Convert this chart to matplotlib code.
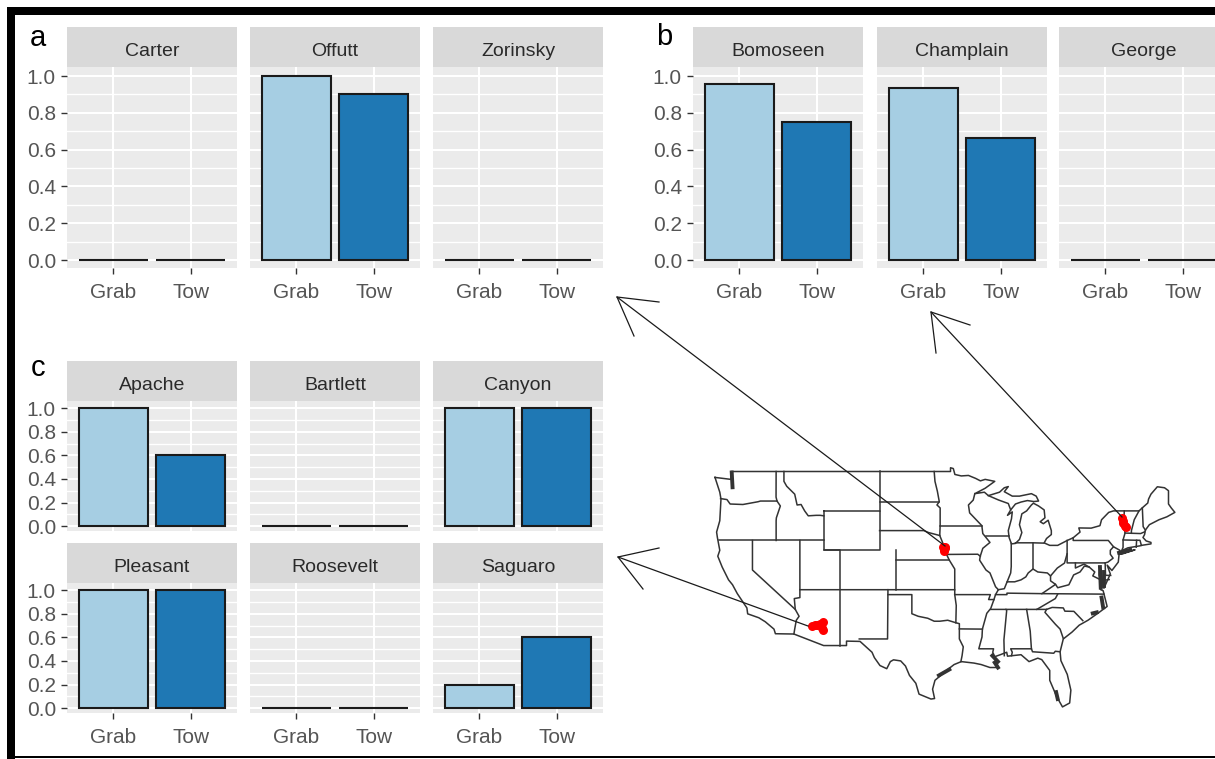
import matplotlib
matplotlib.use('Agg')
import matplotlib.pyplot as plt
from matplotlib.patches import Rectangle

plt.rcParams['font.family'] = ['Liberation Sans', 'DejaVu Sans']

W, H = 1215, 759

# bar heights (Grab, Tow)
methods = ['Grab', 'Tow']
lakes_a = ['Carter', 'Offutt', 'Zorinsky']
values_a = [[0, 0], [1.0, 0.9], [0, 0]]
lakes_b = ['Bomoseen', 'Champlain', 'George']
values_b = [[0.955, 0.75], [0.935, 0.665], [0, 0]]
lakes_c1 = ['Apache', 'Bartlett', 'Canyon']
values_c1 = [[1.0, 0.6], [0, 0], [1.0, 1.0]]
lakes_c2 = ['Pleasant', 'Roosevelt', 'Saguaro']
values_c2 = [[1.0, 1.0], [0, 0], [0.2, 0.6]]
y_ticks = [0.0, 0.2, 0.4, 0.6, 0.8, 1.0]
bar_colors = ['#A6CEE3', '#1F78B4']

# map outlines, lon/lat
us_outline = [(-124.7, 48.4), (-122.7, 48.2), (-122.7, 49), (-95.15, 49), (-95.15, 49.38), (-94.8, 49.3),
              (-94.6, 48.7), (-93.8, 48.55), (-92.9, 48.6), (-92, 48.3), (-91.4, 48.05), (-90.8, 48.2),
              (-89.6, 48.0), (-90.8, 47.3), (-92.1, 46.75), (-90.9, 46.9), (-90.4, 46.55), (-89, 46.9),
              (-88.4, 47.35), (-87.9, 47.47), (-88.4, 46.95), (-87.4, 46.5), (-86.5, 46.5), (-85, 46.75),
              (-84.4, 46.5), (-84.1, 46.0), (-84.7, 45.95), (-85.5, 46.05), (-86.3, 45.9), (-87, 45.7),
              (-87.6, 45.1), (-88, 44.55), (-87.4, 44.9), (-87.5, 44.2), (-87.9, 43.0), (-87.8, 42.3),
              (-87.5, 41.65), (-87.0, 41.7), (-86.5, 42.1), (-86.2, 42.8), (-86.5, 43.6), (-86.2, 44.7),
              (-85.6, 45.0), (-85, 45.6), (-84.75, 45.78), (-84.1, 45.5), (-83.4, 45.1), (-83.3, 44.3),
              (-83.9, 43.9), (-83.5, 43.7), (-82.9, 44.05), (-82.5, 43.0), (-82.5, 42.6), (-83.1, 42.2),
              (-83.4, 41.75), (-82.7, 41.5), (-81.7, 41.5), (-80.5, 42.0), (-79.76, 42.27), (-78.9, 42.85),
              (-79.05, 43.27), (-77.5, 43.25), (-76.4, 43.5), (-76.2, 44.1), (-75.3, 44.85), (-74.7, 45.0),
              (-71.5, 45.0), (-71.1, 45.3), (-70.4, 45.8), (-70.3, 46.2), (-70, 46.7), (-69.2, 47.45),
              (-68.3, 47.35), (-67.8, 47.05), (-67.8, 45.7), (-67.45, 45.3), (-67, 44.85), (-68, 44.4),
              (-69, 44.1), (-70.2, 43.6), (-70.7, 43.05), (-70.8, 42.6), (-71, 42.3), (-70.6, 41.95),
              (-70, 41.8), (-70, 41.65), (-71.2, 41.5), (-71.4, 41.45), (-72.9, 41.25), (-73.7, 40.95),
              (-74, 40.6), (-74.1, 39.8), (-74.9, 38.95), (-75.5, 39.5), (-75.1, 38.6), (-75.9, 37.15),
              (-76.4, 39.2), (-76.5, 38.5), (-76.3, 38), (-76.3, 37), (-76, 36.9), (-75.5, 35.3),
              (-76.5, 34.7), (-77.9, 33.9), (-79, 33.4), (-79.9, 32.7), (-81, 32.0), (-81.4, 30.7),
              (-81.3, 29.8), (-80.5, 28.4), (-80.05, 26.8), (-80.2, 25.5), (-81.1, 25.1), (-81.8, 26.1),
              (-82.7, 27.8), (-82.7, 28.8), (-83.7, 29.9), (-84.2, 30.05), (-85.3, 29.7), (-86.3, 30.4),
              (-87.5, 30.3), (-88, 30.25), (-88.1, 30.65), (-88.9, 30.4), (-89.6, 30.2), (-89.4, 29.8),
              (-89.2, 29.1), (-90.2, 29.1), (-91.3, 29.4), (-92.2, 29.55), (-93.8, 29.7), (-94.7, 29.4),
              (-95.5, 28.9), (-97.1, 27.8), (-97.4, 26.9), (-97.15, 25.95), (-97.6, 25.9), (-99.1, 26.4),
              (-99.5, 27.5), (-100.3, 28.3), (-100.8, 29.25), (-101.4, 29.77), (-102.3, 29.88), (-102.7, 29.7),
              (-103.15, 28.98), (-104, 29.3), (-104.7, 30.1), (-105, 30.65), (-106.5, 31.75), (-108.2, 31.78),
              (-108.2, 31.33), (-111.07, 31.33), (-114.8, 32.5), (-117.12, 32.53), (-117.3, 33), (-118.4, 33.75),
              (-119.2, 34.15), (-120.6, 34.55), (-120.7, 35.15), (-121.9, 36.6), (-122.5, 37.5), (-123, 38),
              (-123.8, 39.3), (-124.35, 40.4), (-124.1, 41), (-124.4, 42.3), (-124.5, 42.85), (-124.1, 44),
              (-123.95, 46.2), (-124.1, 46.9), (-124.7, 48.4)]
state_lines = [
    [(-124, 46.25), (-123.2, 46.15), (-122.8, 45.7), (-121.2, 45.65), (-119.3, 45.93), (-119, 46), (-116.92, 46)],
    [(-117.03, 49), (-117.04, 46.4), (-116.92, 46), (-116.5, 45.5), (-117, 44.3), (-117.03, 44), (-117.03, 42)],
    [(-124.2, 42), (-111.05, 42)],
    [(-111.05, 45), (-111.05, 41), (-104.05, 41), (-104.05, 45), (-111.05, 45)],
    [(-116.05, 49), (-116.05, 48), (-115.7, 47.5), (-114.7, 46.7), (-114.4, 45.6), (-113.9, 45.65),
     (-113.45, 45), (-113, 44.5), (-112, 44.55), (-111.5, 44.55), (-111.05, 44.5)],
    [(-114.05, 42), (-114.05, 36.2), (-114.75, 36.1), (-114.63, 35), (-114.15, 34.3), (-114.5, 33.9),
     (-114.7, 33), (-114.8, 32.5)],
    [(-111.05, 41), (-109.05, 41), (-109.05, 31.33)],
    [(-114.05, 37), (-94.62, 37), (-94.62, 36.5), (-90.15, 36.5), (-90.37, 36), (-89.7, 36)],
    [(-103, 37), (-103.05, 32), (-106.6, 32)],
    [(-103, 36.5), (-100, 36.5), (-100, 34.56), (-99.2, 34.3), (-98, 34.1), (-97.2, 33.8), (-96.5, 33.8),
     (-95.5, 33.9), (-94.5, 33.65), (-94.04, 33.55), (-94.04, 32), (-93.55, 31.2), (-93.7, 30.3), (-93.85, 29.7)],
    [(-94.04, 33.02), (-91.15, 33)],
    [(-120, 42), (-120, 39), (-114.63, 35)],
    [(-104.05, 49), (-104.05, 45)],
    [(-104.05, 45.94), (-96.56, 45.94)],
    [(-104.05, 43), (-98.5, 43), (-97.9, 42.8), (-96.5, 42.5)],
    [(-102.05, 41), (-102.05, 37)],
    [(-102.05, 40), (-95.3, 40)],
    [(-97.2, 49), (-97.1, 48), (-96.8, 47), (-96.56, 45.94), (-96.85, 45.6), (-96.45, 45.3), (-96.45, 43.5),
     (-96.5, 42.5), (-96.1, 41.7), (-95.9, 41), (-95.3, 40), (-94.62, 39.1), (-94.62, 37)],
    [(-96.45, 43.5), (-91.22, 43.5)],
    [(-94.62, 36.5), (-94.43, 35.4), (-94.48, 33.64)],
    [(-95.77, 40.58), (-91.73, 40.6), (-91.42, 40.4)],
    [(-92.1, 46.75), (-92.3, 46.1), (-92.9, 45.6), (-92.75, 44.8), (-91.22, 43.5), (-91.1, 42.7), (-90.2, 41.8),
     (-91.1, 41.2), (-91.42, 40.4), (-91.5, 40), (-90.7, 39), (-90.2, 38.7), (-89.5, 37.3), (-89.15, 37),
     (-89.5, 36.5), (-89.7, 36), (-90.1, 35.1), (-90.6, 34.6), (-91.15, 33), (-91.2, 32.2), (-91.6, 31),
     (-89.75, 31), (-89.85, 30.65), (-89.6, 30.2)],
    [(-90.65, 42.5), (-87.8, 42.5)],
    [(-90.4, 46.55), (-89.1, 46.1), (-87.9, 45.75), (-87.6, 45.1)],
    [(-87.53, 41.7), (-87.53, 39.35), (-87.6, 38.7), (-88.05, 37.8)],
    [(-89.15, 37), (-88.4, 37.1), (-88.05, 37.8), (-87.1, 37.8), (-86.3, 38), (-85.7, 38.3), (-85.4, 38.7),
     (-84.8, 39.1), (-84.2, 38.8), (-83, 38.7), (-82.6, 38.4), (-81.75, 39.2), (-80.85, 39.7), (-80.52, 40.64)],
    [(-84.8, 39.1), (-84.8, 41.7)],
    [(-87, 41.76), (-84.8, 41.76), (-83.45, 41.73)],
    [(-80.52, 42), (-80.52, 39.72), (-75.75, 39.72), (-75.7, 38.46), (-75.05, 38.45)],
    [(-79.76, 42.27), (-79.76, 42), (-75.35, 42), (-74.7, 41.36), (-75.1, 41), (-75.1, 40.6), (-74.75, 40.2), (-75.4, 39.8), (-75.75, 39.72)],
    [(-79.48, 39.72), (-79.48, 39.2), (-78.4, 39.6), (-77.75, 39.3), (-77.05, 38.8), (-77.3, 38.4), (-76.3, 38)],
    [(-77.75, 39.3), (-78.35, 39.4), (-78.9, 38.8), (-79.7, 38.5), (-80.3, 37.5), (-81.7, 37.2), (-81.97, 37.54)],
    [(-82.6, 38.4), (-82.6, 37.9), (-81.97, 37.54), (-83.68, 36.6)],
    [(-75.9, 36.55), (-83.68, 36.6), (-88.07, 36.65), (-88.07, 36.5), (-89.5, 36.5)],
    [(-90.1, 35), (-84.32, 35), (-82, 36.1), (-81.7, 36.55)],
    [(-84.32, 35), (-83.1, 35), (-82.4, 35.2), (-81, 35.15), (-80.8, 34.82), (-79.67, 34.8), (-78.55, 33.86)],
    [(-83.1, 35), (-83.3, 34.7), (-82, 33.5), (-81.4, 33), (-81, 32.05)],
    [(-88.2, 35), (-88.1, 34.9), (-88.45, 31.9), (-88.4, 30.3)],
    [(-85.6, 35), (-85.15, 32.8), (-85, 31.0), (-84.86, 30.7), (-82.2, 30.55), (-82, 30.75), (-81.45, 30.7)],
    [(-87.5, 30.3), (-87.4, 30.65), (-87.6, 31), (-85, 31)],
    [(-73.35, 45), (-73.4, 43.6), (-73.25, 42.75), (-73.5, 42.05), (-73.5, 41.3), (-73.65, 41)],
    [(-71.5, 45), (-72.1, 44.1), (-72.45, 43), (-72.46, 42.73)],
    [(-73.25, 42.75), (-71.3, 42.7), (-70.8, 42.87)],
    [(-73.5, 42.05), (-71.8, 42.02), (-71.38, 42.02), (-71.2, 41.5)],
    [(-71.8, 42.02), (-71.85, 41.32)],
    [(-71.08, 45.3), (-70.98, 43.4), (-70.7, 43.05)],
    [(-74.7, 41.36), (-73.9, 41), (-74, 40.6)],
    [(-75.9, 37.95), (-75.25, 38.03)],
    [(-74, 40.6), (-72, 41.05), (-73.7, 40.6), (-74, 40.6)],
]
# sounds and inlets that fill in as dark blobs on the map
heavy_lines = [
    [(-122.6, 48.9), (-122.5, 47.4)],
    [(-76.4, 39.3), (-76.3, 37.2)],
    [(-75.95, 38.8), (-75.95, 37.4)],
    [(-76.2, 36.2), (-76.0, 35.2)],
    [(-77.3, 34.6), (-76.8, 34.7)],
    [(-89.9, 30.3), (-89.2, 29.7)],
    [(-89.6, 29.6), (-89.2, 29.1)],
    [(-96.6, 28.3), (-95.3, 28.9)],
    [(-81.9, 26.6), (-81.7, 25.9)],
    [(-74, 40.75), (-72.6, 41.05)],
]

# sampled lakes
lake_lon = [-112.57, -112.2, -111.95, -111.5, -111.2, -111.3, -111.2,
            -96.1, -95.85, -96.0, -95.9, -96.0,
            -73.67, -73.55, -73.47, -73.3, -73.17]
lake_lat = [33.3, 33.4, 33.46, 33.55, 33.72, 33.1, 32.87,
            41.35, 41.35, 41.1, 41.2, 40.95,
            44.25, 44.0, 43.74, 43.5, 43.33]

# annotation arrows as image pixels: shaft start, tip, two barbs
arrows = [[(945, 546), (617, 297), (659, 302), (634, 336)],
          [(1122, 517), (931, 312), (970, 325), (936, 353)],
          [(808, 626), (618, 557), (659, 548), (643, 589)]]


def px_axes(x0, y0, x1, y1):
    return fig.add_axes([x0 / W, 1 - y1 / H, (x1 - x0) / W, (y1 - y0) / H])


def facet(name, vals, x0, strip_top, strip_bot, panel_bot, ylim, show_x, show_y, label_y):
    s = px_axes(x0, strip_top, x0 + 170, strip_bot)
    s.set_facecolor('#D9D9D9')
    s.set_xticks([])
    s.set_yticks([])
    for sp in s.spines.values():
        sp.set_visible(False)
    s.text(0.5, label_y, name, transform=s.transAxes, ha='center', va='center', fontsize=14, color='#2A2A2A')

    ax = px_axes(x0, strip_bot, x0 + 170, panel_bot)
    ax.set_facecolor('#EBEBEB')
    for sp in ax.spines.values():
        sp.set_visible(False)
    ax.bar(methods, vals, width=0.9, color=bar_colors, edgecolor='#1A1A1A', linewidth=1.5, zorder=3)
    ax.set_xlim(-0.6, 1.6)
    ax.set_ylim(*ylim)
    ax.set_yticks(y_ticks)
    ax.set_yticks([0.1, 0.3, 0.5, 0.7, 0.9], minor=True)
    ax.grid(which='major', color='white', linewidth=1.5, zorder=1)
    ax.grid(which='minor', axis='y', color='white', linewidth=1.0, zorder=1)
    ax.set_axisbelow(True)
    ax.tick_params(which='minor', length=0)
    ax.tick_params(axis='both', which='major', length=4, width=1, color='#333333',
                   labelcolor='#555555', labelsize=15)
    ax.tick_params(axis='y', pad=4)
    ax.tick_params(axis='x', pad=7)
    ax.tick_params(axis='x', bottom=show_x, labelbottom=show_x)
    ax.tick_params(axis='y', left=show_y, labelleft=show_y)
    if show_y:
        ax.set_yticklabels(['%.1f' % t for t in y_ticks])


fig = plt.figure(figsize=(W / 100, H / 100), dpi=100, facecolor='white')

row_a = (-0.043, 1.049)
row_c = (-0.04, 1.06)
for i, (name, vals) in enumerate(zip(lakes_a, values_a)):
    facet(name, vals, [67, 250, 433][i], 27, 67, 268, row_a, True, i == 0, 0.40)
for i, (name, vals) in enumerate(zip(lakes_b, values_b)):
    facet(name, vals, [693, 877, 1059][i], 27, 67, 268, row_a, True, i == 0, 0.40)
for i, (name, vals) in enumerate(zip(lakes_c1, values_c1)):
    facet(name, vals, [67, 250, 433][i], 361, 401, 531, row_c, False, i == 0, 0.38)
for i, (name, vals) in enumerate(zip(lakes_c2, values_c2)):
    facet(name, vals, [67, 250, 433][i], 543, 583, 713, row_c, True, i == 0, 0.39)

# map
m = px_axes(700, 460, 1190, 720)
m.patch.set_alpha(0)
m.axis('off')
m.set_xlim(-124.7 + (700 - 715) / 7.97, -124.7 + (1190 - 715) / 7.97)
m.set_ylim(49 - (720 - 471.5) / 9.85, 49 - (460 - 471.5) / 9.85)
for line in [us_outline] + state_lines:
    m.plot([p[0] for p in line], [p[1] for p in line], color='#333333', lw=1.1, solid_joinstyle='round')
for line in heavy_lines:
    m.plot([p[0] for p in line], [p[1] for p in line], color='#333333', lw=2.8)
m.scatter(lake_lon, lake_lat, s=42, color='#FF0000', linewidths=0, zorder=5)

# overlay in image pixels: arrows, frame, panel letters
o = fig.add_axes([0, 0, 1, 1])
o.patch.set_alpha(0)
o.axis('off')
o.set_xlim(0, W)
o.set_ylim(H, 0)
for start, tip, b1, b2 in arrows:
    o.plot([start[0], tip[0]], [start[1], tip[1]], color='#1A1A1A', lw=0.9)
    o.plot([b1[0], tip[0], b2[0]], [b1[1], tip[1], b2[1]], color='#1A1A1A', lw=0.9)
o.add_patch(Rectangle((7, 7), W - 7, 8, color='black', lw=0))
o.add_patch(Rectangle((7, 7), 8, H - 7, color='black', lw=0))
o.add_patch(Rectangle((7, 756), W - 7, 2, color='black', lw=0))
o.text(38, 38, 'a', fontsize=21, ha='center', va='center', color='black')
o.text(664, 37, 'b', fontsize=21, ha='center', va='center', color='black')
o.text(38, 368, 'c', fontsize=21, ha='center', va='center', color='black')

fig.savefig('out.png', dpi=100)
